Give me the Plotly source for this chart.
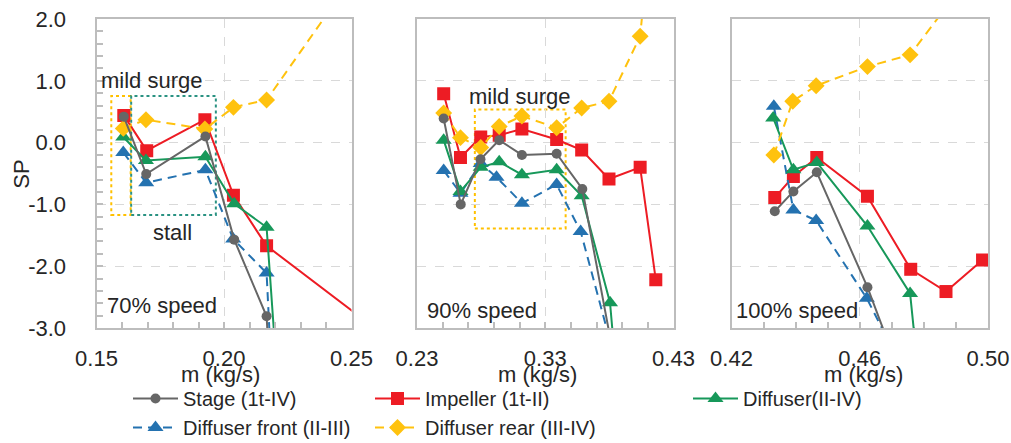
import plotly.graph_objects as go

# ---------------- data ----------------
# 70% speed
stage_x_70 = [0.1607, 0.1695, 0.1927, 0.2040, 0.2167, 0.2178]
stage_y_70 = [0.42, -0.51, 0.10, -1.57, -2.81, -3.60]
imp_x_70 = [0.1607, 0.1697, 0.1925, 0.2037, 0.2167, 0.2600]
imp_y_70 = [0.44, -0.13, 0.37, -0.85, -1.67, -3.03]
dif_x_70 = [0.1605, 0.1694, 0.1927, 0.2040, 0.2167, 0.2200]
dif_y_70 = [0.09, -0.29, -0.23, -0.99, -1.37, -3.30]
front_x_70 = [0.1605, 0.1695, 0.1927, 0.2036, 0.2167, 0.2180]
front_y_70 = [-0.16, -0.65, -0.44, -1.56, -2.11, -3.20]
rear_x_70 = [0.1605, 0.1694, 0.1925, 0.2037, 0.2167, 0.2450]
rear_y_70 = [0.23, 0.37, 0.22, 0.57, 0.69, 2.35]

# 90% speed
stage_x_90 = [0.2508, 0.2641, 0.2795, 0.2941, 0.3118, 0.3389, 0.3589, 0.3810]
stage_y_90 = [0.39, -1.00, -0.27, 0.04, -0.20, -0.18, -0.75, -3.20]
imp_x_90 = [0.2508, 0.2639, 0.2797, 0.2941, 0.3118, 0.3389, 0.3584, 0.3797, 0.4040, 0.4162]
imp_y_90 = [0.79, -0.24, 0.09, 0.12, 0.22, 0.05, -0.12, -0.59, -0.40, -2.22]
dif_x_90 = [0.2508, 0.2639, 0.2797, 0.2941, 0.3118, 0.3389, 0.3584, 0.3805, 0.3835]
dif_y_90 = [0.04, -0.79, -0.40, -0.31, -0.52, -0.44, -0.86, -2.59, -3.30]
front_x_90 = [0.2508, 0.2639, 0.2797, 0.2920, 0.3118, 0.3389, 0.3576, 0.3800]
front_y_90 = [-0.45, -0.82, -0.34, -0.56, -0.98, -0.68, -1.44, -3.17]
rear_x_90 = [0.2508, 0.2639, 0.2797, 0.2941, 0.3118, 0.3389, 0.3584, 0.3797, 0.4040, 0.4070]
rear_y_90 = [0.48, 0.08, -0.08, 0.26, 0.43, 0.24, 0.56, 0.67, 1.72, 2.37]

# 100% speed
stage_x_100 = [0.4335, 0.4393, 0.4466, 0.4624, 0.4690]
stage_y_100 = [-1.11, -0.79, -0.48, -2.34, -3.25]
imp_x_100 = [0.4335, 0.4393, 0.4466, 0.4624, 0.4759, 0.4869, 0.4983]
imp_y_100 = [-0.89, -0.55, -0.24, -0.87, -2.05, -2.41, -1.90]
dif_x_100 = [0.4330, 0.4393, 0.4466, 0.4624, 0.4757, 0.4770]
dif_y_100 = [0.40, -0.44, -0.32, -1.35, -2.44, -3.10]
front_x_100 = [0.4332, 0.4393, 0.4464, 0.4622, 0.4680]
front_y_100 = [0.59, -1.09, -1.26, -2.52, -3.11]
rear_x_100 = [0.4332, 0.4391, 0.4464, 0.4624, 0.4757, 0.4900]
rear_y_100 = [-0.20, 0.67, 0.92, 1.23, 1.42, 2.40]

series_names = ["Stage (1t-IV)", "Impeller (1t-II)", "Diffuser(II-IV)",
                "Diffuser front (II-III)", "Diffuser rear (III-IV)"]

x_ranges = [[0.15, 0.25], [0.23, 0.43], [0.42, 0.50]]
x_tickvals = [[0.15, 0.20, 0.25], [0.23, 0.33, 0.43], [0.42, 0.46, 0.50]]
x_ticktext = [["0.15", "0.20", "0.25"], ["0.23", "0.33", "0.43"], ["0.42", "0.46", "0.50"]]
x_minor = [0.01, 0.02, 0.01]
y_tickvals = [-3, -2, -1, 0, 1, 2]
y_ticktext = ["-3.0", "-2.0", "-1.0", "0.0", "1.0", "2.0"]
speed_labels = ["70% speed", "90% speed", "100% speed"]

# region boxes (data coords)
box_surge_70 = dict(x0=0.1558, x1=0.1634, y0=-1.17, y1=0.755)
box_stall_70 = dict(x0=0.1636, x1=0.1968, y0=-1.17, y1=0.755)
box_surge_90 = dict(x0=0.2751, x1=0.3459, y0=-1.39, y1=0.535)

# ---------------- style ----------------
W, H = 1011, 443
FONT = "Liberation Sans, Arial, sans-serif"
TXT = "#262626"
FRAME = "#bdbdbd"
GRID = "#d9d9d9"

styles = {
    "Stage (1t-IV)": dict(color="#666666", symbol="circle", size=10, dash="solid", shape="linear",
                          legend="legend"),
    "Impeller (1t-II)": dict(color="#ED1C24", symbol="square", size=13, dash="solid", shape="linear",
                             legend="legend2"),
    "Diffuser(II-IV)": dict(color="#17985A", symbol="triangle-up", size=14, dash="solid", shape="linear",
                            legend="legend3"),
    "Diffuser front (II-III)": dict(color="#2472B0", symbol="triangle-up", size=14, dash="9px,6px",
                                    shape="linear", legend="legend"),
    "Diffuser rear (III-IV)": dict(color="#FFC20E", symbol="diamond", size=13, dash="9px,6px",
                                   shape="linear", legend="legend2"),
}

data = {
    0: {"Stage (1t-IV)": (stage_x_70, stage_y_70), "Impeller (1t-II)": (imp_x_70, imp_y_70),
        "Diffuser(II-IV)": (dif_x_70, dif_y_70), "Diffuser front (II-III)": (front_x_70, front_y_70),
        "Diffuser rear (III-IV)": (rear_x_70, rear_y_70)},
    1: {"Stage (1t-IV)": (stage_x_90, stage_y_90), "Impeller (1t-II)": (imp_x_90, imp_y_90),
        "Diffuser(II-IV)": (dif_x_90, dif_y_90), "Diffuser front (II-III)": (front_x_90, front_y_90),
        "Diffuser rear (III-IV)": (rear_x_90, rear_y_90)},
    2: {"Stage (1t-IV)": (stage_x_100, stage_y_100), "Impeller (1t-II)": (imp_x_100, imp_y_100),
        "Diffuser(II-IV)": (dif_x_100, dif_y_100), "Diffuser front (II-III)": (front_x_100, front_y_100),
        "Diffuser rear (III-IV)": (rear_x_100, rear_y_100)},
}

draw_order = ["Impeller (1t-II)", "Diffuser front (II-III)", "Diffuser(II-IV)",
              "Diffuser rear (III-IV)", "Stage (1t-IV)"]

fig = go.Figure()
suffix = ["", "2", "3"]
for p in range(3):
    for name in draw_order:
        st = styles[name]
        xs, ys = data[p][name]
        fig.add_trace(go.Scatter(
            x=xs, y=ys, name=name, mode="lines+markers",
            xaxis="x" + suffix[p], yaxis="y" + suffix[p],
            line=dict(color=st["color"], width=2, dash=st["dash"], shape=st["shape"]),
            marker=dict(color=st["color"], symbol=st["symbol"], size=st["size"], line=dict(width=0)),
            showlegend=(p == 0), legend=st["legend"],
            legendrank=series_names.index(name),
        ))

x_dom_px = [(96.5, 351.5), (417.0, 673.5), (731.5, 988.0)]
y_dom = [1 - 328 / H, 1 - 19 / H]

layout = dict(
    width=W, height=H, margin=dict(l=0, r=0, t=0, b=0, autoexpand=False),
    paper_bgcolor="white", plot_bgcolor="white",
    font=dict(family=FONT, size=22, color=TXT),
    shapes=[], annotations=[],
)

for p in range(3):
    xa = dict(
        domain=[x_dom_px[p][0] / W, x_dom_px[p][1] / W],
        range=x_ranges[p], tickvals=x_tickvals[p], ticktext=x_ticktext[p],
        ticks="inside", ticklen=6, tickcolor=FRAME, tickwidth=1.5,
        minor=dict(dtick=x_minor[p], tick0=x_ranges[p][0], ticks="inside", ticklen=6,
                   tickcolor=FRAME, tickwidth=1.5, showgrid=False),
        showgrid=True, gridcolor=GRID, griddash="dash", gridwidth=1,
        zeroline=False, showline=True, mirror=True, linecolor=FRAME, linewidth=2,
        anchor="y" + suffix[p], tickfont=dict(size=22, color=TXT),
        ticklabelstandoff=10, fixedrange=True, automargin=False,
    )
    ya = dict(
        domain=y_dom, range=[-3, 2], tickvals=y_tickvals, ticktext=y_ticktext,
        showgrid=True, gridcolor=GRID, griddash="dash", gridwidth=1,
        zeroline=False, showline=True, mirror=True, linecolor=FRAME, linewidth=2,
        anchor="x" + suffix[p], tickfont=dict(size=22, color=TXT), fixedrange=True,
        automargin=False,
    )
    if p == 0:
        ya.update(ticks="inside", ticklen=6, tickcolor=FRAME, tickwidth=1.5,
                  minor=dict(dtick=0.2, tick0=-3, ticks="inside", ticklen=6, tickcolor=FRAME,
                             tickwidth=1.5, showgrid=False),
                  showticklabels=True, ticklabelstandoff=24)
    else:
        ya.update(ticks="", showticklabels=False)
    layout["xaxis" + suffix[p]] = xa
    layout["yaxis" + suffix[p]] = ya

# region boxes
for box, col, ax in [(box_surge_70, "#FFC000", ""), (box_stall_70, "#2A9282", ""),
                     (box_surge_90, "#FFC000", "2")]:
    layout["shapes"].append(dict(type="rect", xref="x" + ax, yref="y" + ax, **box,
                                 line=dict(color=col, width=2, dash="dot"), layer="below"))

def ann(text, xpx, ypx, **kw):
    d = dict(text=text, xref="paper", yref="paper", x=xpx / W, y=1 - ypx / H,
             xanchor="center", yanchor="middle", showarrow=False,
             font=dict(family=FONT, size=22, color=TXT))
    d.update(kw)
    layout["annotations"].append(d)

ann("mild surge", 151.7, 81)
ann("stall", 172, 232)
ann("mild surge", 519, 96)
ann(speed_labels[0], 162, 305)
ann(speed_labels[1], 481.7, 310)
ann(speed_labels[2], 796.7, 310.7)
ann("SP", 21.7, 174, textangle=-90)
for cx in [220, 537, 863]:
    ann("m (kg/s)", cx, 374)

leg_common = dict(font=dict(family=FONT, size=20, color=TXT), bgcolor="rgba(0,0,0,0)",
                  orientation="v", xanchor="left", yanchor="top", itemwidth=45,
                  tracegroupgap=0, itemclick=False, itemdoubleclick=False)
layout["legend"] = dict(x=128 / W, y=1 - 379 / H, **leg_common)
layout["legend2"] = dict(x=370 / W, y=1 - 379 / H, **leg_common)
layout["legend3"] = dict(x=688 / W, y=1 - 379 / H, **leg_common)

fig.update_layout(**layout)
fig.write_html("out.html")
